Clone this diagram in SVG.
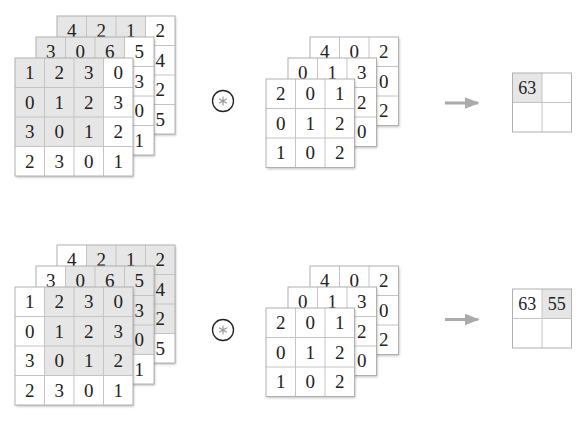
<svg xmlns="http://www.w3.org/2000/svg" xmlns:xlink="http://www.w3.org/1999/xlink" width="579" height="436" viewBox="0 0 579 436">
<style>
.bg{fill:#fff;filter:url(#sh)}
.s{fill:#e6e6e6}
.gl{fill:none;stroke:#c4c4c4;stroke-width:1}
.ob{fill:none;stroke:#b0b0b0;stroke-width:1}
text{font-family:"Times New Roman","Liberation Serif","DejaVu Serif","FreeSerif",Times,serif;font-size:19px;fill:#222;text-anchor:middle}
.o text{font-size:18px}
.arr{stroke:#aaaaaa;stroke-width:3;fill:none;marker-end:url(#ah)}
</style>
<defs>
<filter id="sh" x="-10%" y="-10%" width="125%" height="125%">
<feDropShadow dx="1" dy="1.5" stdDeviation="1.2" flood-color="#000" flood-opacity="0.25"/>
</filter>
<marker id="ah" markerWidth="6" markerHeight="4" refX="4.5" refY="2" orient="auto" markerUnits="strokeWidth">
<path d="M0,0 L5,2 L0,4 Z" fill="#aaaaaa"/>
</marker>
<path id="g4" class="gl" d="M29.5,0V118M59,0V118M88.5,0V118M0,29.5H118M0,59H118M0,88.5H118"/>
<path id="g3" class="gl" d="M29.5,0V88.5M59,0V88.5M0,29.5H88.5M0,59H88.5"/>
<path id="g2" class="gl" d="M29.5,0V59M0,29.5H59"/>
</defs>

<!-- TOP ROW -->
<g id="input-top">
<g transform="translate(57,16)">
<rect class="bg" width="118" height="118"/><rect class="s" width="88.5" height="88.5"/>
<use xlink:href="#g4"/><rect class="ob" width="118" height="118"/>
<text x="14.75" y="21.25">4</text><text x="44.25" y="21.25">2</text><text x="73.75" y="21.25">1</text><text x="103.25" y="21.25">2</text>
<text x="103.25" y="50.75">4</text><text x="103.25" y="80.25">2</text><text x="103.25" y="109.75">5</text>
</g>
<g transform="translate(36,37)">
<rect class="bg" width="118" height="118"/><rect class="s" width="88.5" height="88.5"/>
<use xlink:href="#g4"/><rect class="ob" width="118" height="118"/>
<text x="14.75" y="21.25">3</text><text x="44.25" y="21.25">0</text><text x="73.75" y="21.25">6</text><text x="103.25" y="21.25">5</text>
<text x="103.25" y="50.75">3</text><text x="103.25" y="80.25">0</text><text x="103.25" y="109.75">1</text>
</g>
<g transform="translate(15,58)">
<rect class="bg" width="118" height="118"/><rect class="s" width="88.5" height="88.5"/>
<use xlink:href="#g4"/><rect class="ob" width="118" height="118"/>
<text x="14.75" y="21.25">1</text><text x="44.25" y="21.25">2</text><text x="73.75" y="21.25">3</text><text x="103.25" y="21.25">0</text>
<text x="14.75" y="50.75">0</text><text x="44.25" y="50.75">1</text><text x="73.75" y="50.75">2</text><text x="103.25" y="50.75">3</text>
<text x="14.75" y="80.25">3</text><text x="44.25" y="80.25">0</text><text x="73.75" y="80.25">1</text><text x="103.25" y="80.25">2</text>
<text x="14.75" y="109.75">2</text><text x="44.25" y="109.75">3</text><text x="73.75" y="109.75">0</text><text x="103.25" y="109.75">1</text>
</g>
</g>

<g id="op-top">
<circle cx="223" cy="101" r="10.5" fill="#fff" stroke="#222" stroke-width="1.3"/>
<path d="M223,96.5V105.5M219.1,98.75L226.9,103.25M219.1,103.25L226.9,98.75" stroke="#999" stroke-width="1.2"/>
</g>

<g id="kernel-top">
<g transform="translate(310,37)">
<rect class="bg" width="88.5" height="88.5"/>
<use xlink:href="#g3"/><rect class="ob" width="88.5" height="88.5"/>
<text x="14.75" y="21.25">4</text><text x="44.25" y="21.25">0</text><text x="73.75" y="21.25">2</text>
<text x="73.75" y="50.75">0</text><text x="73.75" y="80.25">2</text>
</g>
<g transform="translate(288,58)">
<rect class="bg" width="88.5" height="88.5"/>
<use xlink:href="#g3"/><rect class="ob" width="88.5" height="88.5"/>
<text x="14.75" y="21.25">0</text><text x="44.25" y="21.25">1</text><text x="73.75" y="21.25">3</text>
<text x="73.75" y="50.75">2</text><text x="73.75" y="80.25">0</text>
</g>
<g transform="translate(266,79)">
<rect class="bg" width="88.5" height="88.5"/>
<use xlink:href="#g3"/><rect class="ob" width="88.5" height="88.5"/>
<text x="14.75" y="21.25">2</text><text x="44.25" y="21.25">0</text><text x="73.75" y="21.25">1</text>
<text x="14.75" y="50.75">0</text><text x="44.25" y="50.75">1</text><text x="73.75" y="50.75">2</text>
<text x="14.75" y="80.25">1</text><text x="44.25" y="80.25">0</text><text x="73.75" y="80.25">2</text>
</g>
</g>

<g id="output-top" class="o" transform="translate(512.5,73)">
<rect fill="#fff" width="59" height="59"/><rect class="s" width="29.5" height="29.5"/>
<use xlink:href="#g2"/><rect class="ob" width="59" height="59"/>
<text x="14.75" y="21">63</text>
</g>

<!-- BOTTOM ROW -->
<g id="input-bottom">
<g transform="translate(57,245)">
<rect class="bg" width="118" height="118"/><rect class="s" x="29.5" width="88.5" height="88.5"/>
<use xlink:href="#g4"/><rect class="ob" width="118" height="118"/>
<text x="14.75" y="21.25">4</text><text x="44.25" y="21.25">2</text><text x="73.75" y="21.25">1</text><text x="103.25" y="21.25">2</text>
<text x="103.25" y="50.75">4</text><text x="103.25" y="80.25">2</text><text x="103.25" y="109.75">5</text>
</g>
<g transform="translate(36,266)">
<rect class="bg" width="118" height="118"/><rect class="s" x="29.5" width="88.5" height="88.5"/>
<use xlink:href="#g4"/><rect class="ob" width="118" height="118"/>
<text x="14.75" y="21.25">3</text><text x="44.25" y="21.25">0</text><text x="73.75" y="21.25">6</text><text x="103.25" y="21.25">5</text>
<text x="103.25" y="50.75">3</text><text x="103.25" y="80.25">0</text><text x="103.25" y="109.75">1</text>
</g>
<g transform="translate(15,287)">
<rect class="bg" width="118" height="118"/><rect class="s" x="29.5" width="88.5" height="88.5"/>
<use xlink:href="#g4"/><rect class="ob" width="118" height="118"/>
<text x="14.75" y="21.25">1</text><text x="44.25" y="21.25">2</text><text x="73.75" y="21.25">3</text><text x="103.25" y="21.25">0</text>
<text x="14.75" y="50.75">0</text><text x="44.25" y="50.75">1</text><text x="73.75" y="50.75">2</text><text x="103.25" y="50.75">3</text>
<text x="14.75" y="80.25">3</text><text x="44.25" y="80.25">0</text><text x="73.75" y="80.25">1</text><text x="103.25" y="80.25">2</text>
<text x="14.75" y="109.75">2</text><text x="44.25" y="109.75">3</text><text x="73.75" y="109.75">0</text><text x="103.25" y="109.75">1</text>
</g>
</g>

<g id="op-bottom">
<circle cx="223" cy="330" r="10.5" fill="#fff" stroke="#222" stroke-width="1.3"/>
<path d="M223,325.5V334.5M219.1,327.75L226.9,332.25M219.1,332.25L226.9,327.75" stroke="#999" stroke-width="1.2"/>
</g>

<g id="kernel-bottom">
<g transform="translate(310,266)">
<rect class="bg" width="88.5" height="88.5"/>
<use xlink:href="#g3"/><rect class="ob" width="88.5" height="88.5"/>
<text x="14.75" y="21.25">4</text><text x="44.25" y="21.25">0</text><text x="73.75" y="21.25">2</text>
<text x="73.75" y="50.75">0</text><text x="73.75" y="80.25">2</text>
</g>
<g transform="translate(288,287)">
<rect class="bg" width="88.5" height="88.5"/>
<use xlink:href="#g3"/><rect class="ob" width="88.5" height="88.5"/>
<text x="14.75" y="21.25">0</text><text x="44.25" y="21.25">1</text><text x="73.75" y="21.25">3</text>
<text x="73.75" y="50.75">2</text><text x="73.75" y="80.25">0</text>
</g>
<g transform="translate(266,308)">
<rect class="bg" width="88.5" height="88.5"/>
<use xlink:href="#g3"/><rect class="ob" width="88.5" height="88.5"/>
<text x="14.75" y="21.25">2</text><text x="44.25" y="21.25">0</text><text x="73.75" y="21.25">1</text>
<text x="14.75" y="50.75">0</text><text x="44.25" y="50.75">1</text><text x="73.75" y="50.75">2</text>
<text x="14.75" y="80.25">1</text><text x="44.25" y="80.25">0</text><text x="73.75" y="80.25">2</text>
</g>
</g>

<g id="output-bottom" class="o" transform="translate(512.5,289)">
<rect fill="#fff" width="59" height="59"/><rect class="s" x="29.5" width="29.5" height="29.5"/>
<use xlink:href="#g2"/><rect class="ob" width="59" height="59"/>
<text x="14.75" y="21">63</text><text x="44.25" y="21">55</text>
</g>

<g id="connectors">
<path class="arr" d="M445,103H478"/>
<path class="arr" d="M445,319.5H478"/>
</g>
</svg>
